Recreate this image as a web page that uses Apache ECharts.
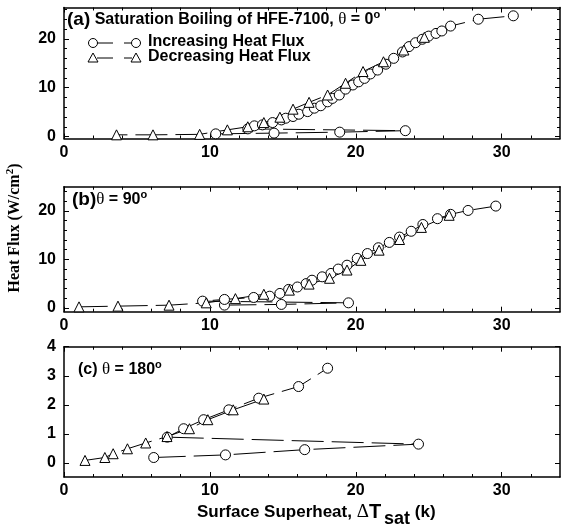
<!DOCTYPE html>
<html>
<head>
<meta charset="utf-8">
<script src="https://cdn.jsdelivr.net/npm/echarts@6/dist/echarts.min.js"></script>
<style>
  html, body { margin: 0; padding: 0; background: #fff; }
  #chart { width: 561px; height: 532px; }
</style>
</head>
<body>
<div id="chart"></div>
<script>
// ---- Boiling curves, HFE-7100 (surface superheat in K, heat flux in W/cm^2) ----

// (a) theta = 0 deg
const incA_dT = [10.4, 14.4, 18.9, 23.4, 12.6, 13.05, 13.6, 14.3, 14.9, 15.2, 15.7, 16.1, 16.7, 17.16, 17.6, 18.07, 18.4, 18.87, 19.3, 19.8, 20.2, 20.6, 21.0, 21.5, 22.06, 22.6, 23.2, 23.65, 24.1, 24.56, 25.0, 25.5, 25.9, 26.5, 28.4, 30.8];
const incA_q  = [0.55, 0.7, 0.9, 1.2, 1.57, 2.19, 2.39, 2.86, 3.4, 3.75, 4.1, 4.57, 5.1, 5.8, 6.3, 7.1, 7.8, 8.5, 9.7, 10.55, 11.2, 11.9, 12.8, 13.6, 14.8, 16.0, 17.3, 18.4, 19.2, 19.9, 20.55, 21.1, 21.6, 22.6, 24.0, 24.7];
const decA_dT = [24.7, 23.3, 21.9, 20.5, 19.3, 18.07, 16.8, 15.7, 14.8, 13.7, 12.6, 11.2, 9.3, 6.1, 3.6];
const decA_q  = [20.3, 17.7, 15.3, 13.3, 10.9, 8.5, 7.0, 5.6, 3.96, 2.86, 2.0, 1.37, 0.45, 0.35, 0.35];

// (b) theta = 90 deg
const incB_dT = [11.0, 14.9, 19.5, 9.5, 11.0, 13.0, 14.1, 14.8, 15.4, 16.0, 16.6, 17.0, 17.7, 18.3, 18.8, 19.4, 20.1, 20.8, 21.55, 22.3, 23.0, 23.8, 24.6, 25.6, 26.5, 27.7, 29.6];
const incB_q  = [0.56, 0.7, 1.03, 1.38, 1.73, 2.14, 2.4, 2.97, 3.8, 4.3, 5.0, 5.7, 6.4, 7.1, 8.0, 8.8, 10.2, 11.2, 12.4, 13.5, 14.6, 15.8, 17.2, 18.4, 19.3, 20.1, 21.0];
const decB_dT = [26.4, 24.5, 23.0, 21.6, 20.35, 19.4, 18.2, 16.8, 15.45, 13.7, 11.75, 9.75, 7.2, 3.7, 1.03];
const decB_q  = [19.1, 16.6, 14.1, 11.9, 9.8, 7.8, 6.1, 4.9, 3.65, 2.8, 1.9, 1.03, 0.55, 0.35, 0.2];

// (c) theta = 180 deg
const incC_dT = [6.15, 11.07, 16.5, 24.3, 7.08, 8.2, 9.57, 11.3, 13.35, 16.08, 18.07];
const incC_q  = [0.19, 0.28, 0.46, 0.65, 0.89, 1.18, 1.49, 1.83, 2.23, 2.63, 3.26];
const decC_dT = [13.7, 11.6, 9.86, 8.6, 7.06, 5.6, 4.35, 3.37, 2.8, 1.44];
const decC_q  = [2.2, 1.83, 1.49, 1.18, 0.91, 0.69, 0.49, 0.32, 0.19, 0.09];

// ---- Axis ticks ----
const xMajor = [0, 10, 20, 30];
const xMinor = [2, 4, 6, 8, 12, 14, 16, 18, 22, 24, 26, 28, 32];
const yMajorAB = [0, 10, 20];
const yMinorA = [2, 4, 6, 8, 12, 14, 16, 18, 22, 24, 26];
const yMinorB = [2, 4, 6, 8, 12, 14, 16, 18, 22, 24];
const yMajorC = [0, 1, 2, 3, 4];
const yMinorC = [];

const SANS = "'Liberation Sans', Arial, sans-serif";
const SERIF = "'Liberation Serif', 'Times New Roman', serif";

const zip = (xs, ys) => xs.map((x, i) => [x, ys[i]]);

// panel frame positions (px)
const panels = [
  { top: 7.5,   height: 131,   yMin: -0.4,  yMax: 26.4, yMajor: yMajorAB, yMinor: yMinorA,
    inc: zip(incA_dT, incA_q), dec: zip(decA_dT, decA_q) },
  { top: 186.7, height: 125,   yMin: -0.8,  yMax: 25,   yMajor: yMajorAB, yMinor: yMinorB,
    inc: zip(incB_dT, incB_q), dec: zip(decB_dT, decB_q) },
  { top: 346.7, height: 130.3, yMin: -0.48, yMax: 4,    yMajor: yMajorC,  yMinor: yMinorC,
    inc: zip(incC_dT, incC_q), dec: zip(decC_dT, decC_q) }
];

const grids = [], xAxes = [], yAxes = [], series = [];
const lineCol = '#000';

function xAxisDef(g, pos, ticks, len, showLine, showLabel) {
  return {
    type: 'value', gridIndex: g, position: pos, min: 0, max: 34,
    axisLine: { show: showLine, onZero: false, lineStyle: { color: lineCol, width: 1.5 } },
    axisTick: { show: ticks.length > 0, inside: true, length: len, customValues: ticks,
                lineStyle: { color: lineCol, width: 1 } },
    axisLabel: { show: showLabel, customValues: xMajor, color: '#000', fontFamily: SANS,
                 fontWeight: 'bold', fontSize: 16, margin: 6 },
    splitLine: { show: false }
  };
}
function yAxisDef(g, p, pos, ticks, len, showLine, showLabel) {
  return {
    type: 'value', gridIndex: g, position: pos, min: p.yMin, max: p.yMax,
    axisLine: { show: showLine, onZero: false, lineStyle: { color: lineCol, width: 1.5 } },
    axisTick: { show: ticks.length > 0, inside: true, length: len, customValues: ticks,
                lineStyle: { color: lineCol, width: 1 } },
    axisLabel: { show: showLabel, customValues: p.yMajor, color: '#000', fontFamily: SANS,
                 fontWeight: 'bold', fontSize: 16, margin: 8 },
    splitLine: { show: false }
  };
}

panels.forEach((p, g) => {
  grids.push({ left: 64, width: 496, top: p.top, height: p.height, containLabel: false });
  const xi = xAxes.length, yi = yAxes.length;
  xAxes.push(xAxisDef(g, 'bottom', xMajor, 5, true, true));
  xAxes.push(xAxisDef(g, 'top', xMajor, 5, true, false));
  xAxes.push(xAxisDef(g, 'bottom', xMinor, 3, false, false));
  xAxes.push(xAxisDef(g, 'top', xMinor, 3, false, false));
  yAxes.push(yAxisDef(g, p, 'left', p.yMajor, 5, true, true));
  yAxes.push(yAxisDef(g, p, 'right', p.yMajor, 5, true, false));
  yAxes.push(yAxisDef(g, p, 'left', p.yMinor, 3, false, false));
  yAxes.push(yAxisDef(g, p, 'right', p.yMinor, 3, false, false));

  const common = {
    type: 'line', xAxisIndex: xi, yAxisIndex: yi, symbolSize: 10,
    lineStyle: { color: lineCol, width: 1, type: [32, 8] },
    itemStyle: { color: '#fff', borderColor: lineCol, borderWidth: 1 },
    emphasis: { disabled: true }, animation: false, z: 3
  };
  series.push(Object.assign({}, common, { name: 'Increasing Heat Flux', symbol: 'circle', data: p.inc }));
  series.push(Object.assign({}, common, { name: 'Decreasing Heat Flux', symbol: 'triangle', data: p.dec }));
});

// ---- Annotations ----
const titleRich = {
  p: { fontFamily: SANS, fontWeight: 'bold', fontSize: 19, fill: '#000', lineHeight: 22 },
  t: { fontFamily: SANS, fontWeight: 'bold', fontSize: 16, fill: '#000', lineHeight: 22 },
  g: { fontFamily: SERIF, fontWeight: 'normal', fontSize: 17, fill: '#000', lineHeight: 22 },
  s: { fontFamily: SANS, fontWeight: 'bold', fontSize: 11, fill: '#000', lineHeight: 14, verticalAlign: 'top' }
};

function txt(x, y, text, extra) {
  return Object.assign({ type: 'text', x: x, y: y, silent: true,
    style: Object.assign({ text: text, fill: '#000', rich: titleRich, verticalAlign: 'middle' }, extra || {}) });
}

function legendRow(y, shape) {
  const els = [];
  const mk = (cx) => shape === 'circle'
    ? { type: 'circle', shape: { cx: cx, cy: y, r: 4.5 }, style: { fill: '#fff', stroke: '#000', lineWidth: 1 } }
    : { type: 'polygon', shape: { points: [[cx, y - 5], [cx + 5, y + 4], [cx - 5, y + 4]] },
        style: { fill: '#fff', stroke: '#000', lineWidth: 1 } };
  els.push({ type: 'line', shape: { x1: 97, y1: y, x2: 113, y2: y }, style: { stroke: '#000', lineWidth: 1 } });
  els.push({ type: 'line', shape: { x1: 124, y1: y, x2: 132, y2: y }, style: { stroke: '#000', lineWidth: 1 } });
  els.push(mk(93));
  els.push(mk(136));
  return els;
}

const graphics = [
  txt(67, 20, '{p|(a)}{t| Saturation Boiling of HFE-7100, }{g|θ}{t| = 0}{s|o}'),
  txt(72, 200, '{p|(b)}{g|θ}{t| = 90}{s|o}'),
  txt(78, 370, '{t|(c) }{g|θ}{t| = 180}{s|o}'),
  ...legendRow(43, 'circle'),
  ...legendRow(58, 'triangle'),
  txt(148, 42, '{t|Increasing Heat Flux}'),
  txt(148, 57, '{t|Decreasing Heat Flux}'),
  {
    type: 'text', x: 15, y: 228, rotation: Math.PI / 2, silent: true,
    style: {
      text: '{m|Heat Flux (W/cm}{e|2}{m|)}', align: 'center', verticalAlign: 'middle',
      rich: {
        m: { fontFamily: SERIF, fontWeight: 'bold', fontSize: 16, fill: '#000', lineHeight: 20 },
        e: { fontFamily: SERIF, fontWeight: 'bold', fontSize: 11, fill: '#000', lineHeight: 13, verticalAlign: 'top' }
      }
    }
  },
  {
    type: 'text', x: 197, y: 512, silent: true,
    style: {
      text: '{m|Surface Superheat, }{d|Δ}{T|T}{b|sat}{m| (k)}', verticalAlign: 'middle',
      rich: {
        m: { fontFamily: SANS, fontWeight: 'bold', fontSize: 17, fill: '#000', lineHeight: 22 },
        d: { fontFamily: SERIF, fontWeight: 'normal', fontSize: 19, fill: '#000', lineHeight: 22 },
        T: { fontFamily: SANS, fontWeight: 'bold', fontSize: 20, fill: '#000', lineHeight: 22 },
        b: { fontFamily: SANS, fontWeight: 'bold', fontSize: 18, fill: '#000', lineHeight: 32,
             verticalAlign: 'bottom', padding: [0, 0, 0, 3] }
      }
    }
  }
];

const chart = echarts.init(document.getElementById('chart'), null, { renderer: 'canvas' });
chart.setOption({
  animation: false,
  backgroundColor: '#fff',
  grid: grids,
  xAxis: xAxes,
  yAxis: yAxes,
  series: series,
  graphic: graphics
});
</script>
</body>
</html>
